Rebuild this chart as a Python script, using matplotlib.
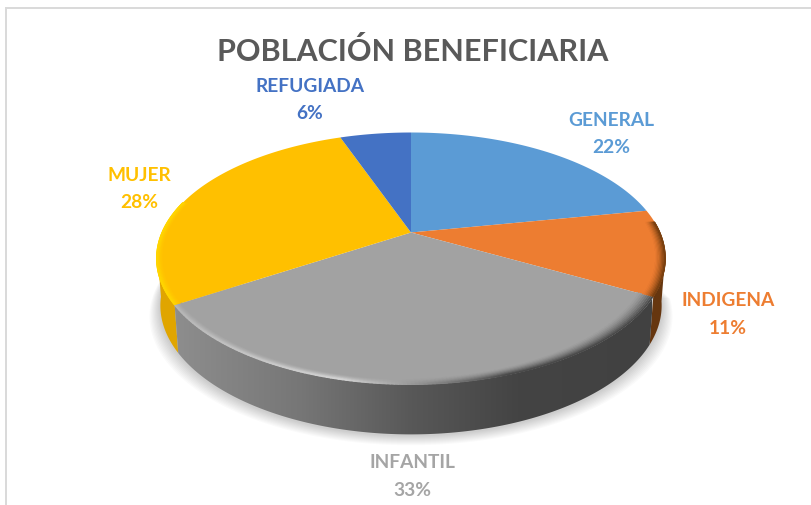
import numpy as np
import matplotlib
matplotlib.use("Agg")
import matplotlib.pyplot as plt
from matplotlib.collections import LineCollection
from matplotlib.colors import LinearSegmentedColormap, to_rgb
from matplotlib.patches import Polygon

categories = ["GENERAL", "INDIGENA", "INFANTIL", "MUJER", "REFUGIADA"]
values = [22, 11, 33, 28.5, 5.5]
percent_labels = ["22%", "11%", "33%", "28%", "6%"]
colors = ["#5B9BD5", "#ED7D31", "#A2A2A2", "#FFC000", "#4472C4"]
label_colors = ["#5B9BD5", "#ED7D31", "#A5A5A5", "#FFC000", "#4472C4"]
label_pos = [(611, 120), (728, 301), (412, 463), (139, 175), (310, 86)]
title = "POBLACIÓN BENEFICIARIA"

CX, CY, A, B, K = 411.0, 233.5, 249.0, 120.6, 0.206
DEPTH = 50.0

fig = plt.figure(figsize=(8.11, 5.06), dpi=100, facecolor="white")
ax = fig.add_axes([0, 0, 1, 1])
ax.set_xlim(0, 811)
ax.set_ylim(506, 0)
ax.axis("off")


def top(theta, r=1.0):
    u, v = r * np.sin(theta), r * np.cos(theta)
    w = 1 + K * v
    return CX + A * u / w, CY - B * v / w


def bottom(theta):
    x, y = top(theta)
    return CX + (x - CX) * 0.985, y + DEPTH - 3 * np.sin(theta) ** 2


def arc(a0, a1, n=200):
    return np.linspace(a0, a1, n)


def wall(a0, a1):
    t = arc(a0, a1)
    xt, yt = top(t)
    xb, yb = bottom(t)
    return np.column_stack([np.r_[xt, xb[::-1]], np.r_[yt, yb[::-1]]])


def mix(c0, c1, t):
    c0, c1 = np.array(to_rgb(c0)), np.array(to_rgb(c1))
    return c0 + (c1 - c0) * t


edges = np.radians(np.r_[0, np.cumsum(values)] * 3.6)

# soft shadow under the base
t_all = arc(np.pi * 0.52, np.pi * 1.52, 300)
for grow in np.linspace(11, 1, 10):
    xb, yb = bottom(t_all)
    xs = CX + (xb - CX) * (1 + grow / 253)
    ys = yb + grow * 0.9 + 1
    ax.fill(np.r_[xs, CX], np.r_[ys, 300], color="#000000", alpha=0.02, lw=0, zorder=1)

# side walls
infantil = 2
a_left = np.radians(262)
ax.add_patch(Polygon(wall(edges[3], a_left), closed=True, fc="#E0A500", ec="none", zorder=2))
ax.add_patch(Polygon(wall(np.radians(100), edges[2]), closed=True, fc="#66360F", ec="none", zorder=2))

gray_wall = Polygon(wall(edges[infantil], edges[infantil + 1]), closed=True, fc="none", ec="none", zorder=3)
ax.add_patch(gray_wall)
cmap = LinearSegmentedColormap.from_list(
    "wall",
    [(0, "#8E8E8E"), (0.27, "#767676"), (0.5, "#585858"), (0.72, "#444444"), (1, "#414141")],
)
img = ax.imshow(
    np.linspace(0, 1, 256)[None, :], cmap=cmap, aspect="auto",
    extent=(172, 652, 440, 290), zorder=3,
)
img.set_clip_path(gray_wall)
ax.set_xlim(0, 811)
ax.set_ylim(506, 0)

# top faces
for i, color in enumerate(colors):
    t = arc(edges[i], edges[i + 1])
    x, y = top(t)
    ax.fill(np.r_[CX, x], np.r_[CY, y], color=color, lw=0, zorder=4)


def rim(a0, a1, base, outer_fn, width_fn, zorder=5):
    t = arc(a0, a1, 160)
    f = np.linspace(0, 1, len(t))
    width = np.array([width_fn(q) for q in f])
    for level, w in zip(np.linspace(1, 0.05, 9), np.linspace(0, 1, 9) ** 1.5):
        x, y = top(t, 1 - level * width)
        pts = np.column_stack([x, y])
        segs = np.stack([pts[:-1], pts[1:]], axis=1)
        cols = [mix(base, outer_fn(q), w) for q in f[:-1]]
        ax.add_collection(LineCollection(segs, colors=cols, linewidths=1.2, zorder=zorder, capstyle="round"))


# bevel of the infantil slice: broad and dark at the right, thin and light at the left
def gray_rim(q):
    if q < 0.62:
        return mix("#4A4A4A", "#D2D2D2", min(1.0, max(0.0, (q - 0.36) / 0.26)))
    return mix("#D2D2D2", "#B4B4B4", (q - 0.62) / 0.38)


def gray_width(q):
    return 0.06 - 0.035 * min(1.0, q / 0.6)


rim(edges[2], edges[3], colors[2], gray_rim, gray_width)
rim(edges[3] + 0.005, np.radians(285), colors[3], lambda q: to_rgb("#FFD500"), lambda q: 0.025)
rim(np.radians(85), edges[2] - 0.005, colors[1], lambda q: to_rgb("#7A4010"), lambda q: 0.04)

# labels
for name, pct, col, (lx, ly) in zip(categories, percent_labels, label_colors, label_pos):
    ax.text(lx, ly, name, color=col, fontsize=13.8, fontweight="bold", family="Lato",
            ha="center", va="center", zorder=6)
    ax.text(lx, ly + 27.5, pct, color=col, fontsize=13.8, fontweight="bold", family="Lato",
            ha="center", va="center", zorder=6)

ax.text(413, 51, title, color="#595959", fontsize=22, fontweight="bold", family="Lato",
        ha="center", va="center", zorder=6)

# chart frame, cut by the edge of the picture
ax.plot([811, 5.5, 5.5], [8.5, 8.5, 506], color="#D9D9D9", lw=1.4, zorder=7, solid_joinstyle="miter")

fig.savefig("out.png", dpi=100)
